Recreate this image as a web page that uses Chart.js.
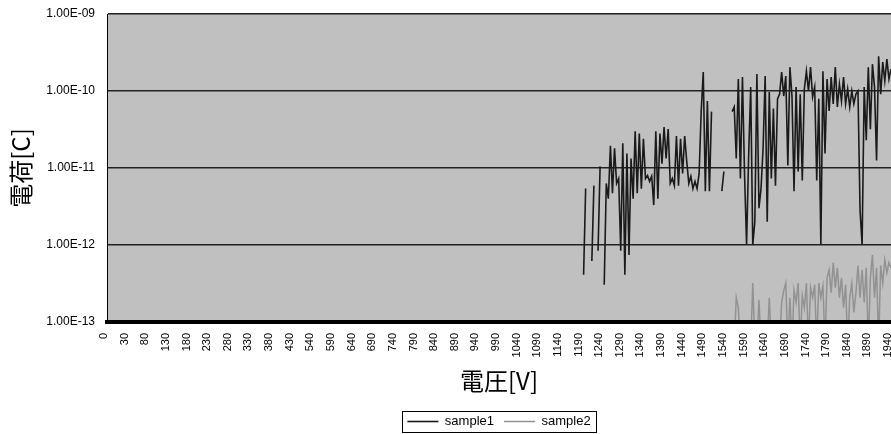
<!DOCTYPE html>
<html>
<head>
<meta charset="utf-8">
<script src="https://cdn.jsdelivr.net/npm/chart.js@4/dist/chart.umd.min.js"></script>
<style>
html,body{margin:0;padding:0;background:#fff;}
#wrap{width:891px;height:434px;}
</style>
</head>
<body>
<div id="wrap"><canvas id="c" width="891" height="434"></canvas></div>
<script>
// ---- data ----
const tickLabels = ['0','30','80','130','180','230','280','330','380','430','540','590','640','690','740','790','840','890','940','990','1040','1090','1140','1190','1240','1290','1340','1390','1440','1490','1540','1590','1640','1690','1740','1790','1840','1890','1940'];
const pointsPerTick = 10;
const yTickValues = [1e-13, 1e-12, 1e-11, 1e-10, 1e-9];
const yTickLabels = ['1.00E-13', '1.00E-12', '1.00E-11', '1.00E-10', '1.00E-09'];
const seriesNames = ['sample1', 'sample2'];

const sample1Start = 231;
const sample1 = [
 4.1e-13, 5.4e-12, null, null, 6.2e-13, 5.9e-12, null, 8.4e-13, 1.05e-11, null,
 3.05e-13, 6.3e-12, 4.0e-12, 1.95e-11, 4.7e-12, 1.8e-11, 6.3e-12, 7.3e-12, 8.4e-13, 2.1e-11,
 4.1e-13, 1.54e-11, 7.4e-13, 1.33e-11, 4.0e-12, 3.0e-11, 4.7e-12, 2.8e-11, 5.4e-12, 2.4e-11,
 7.3e-12, 8.0e-12, 6.7e-12, 7.8e-12, 3.3e-12, 3.0e-11, 4.0e-12, 2.8e-11, 1.14e-11, 3.4e-11,
 1.33e-11, 3.2e-11, 6.3e-12, 7.3e-12, 5.9e-12, 2.6e-11, 5.9e-12, 2.4e-11, 8.5e-12, 2.6e-11,
 1.21e-11, 6.3e-12, 7.8e-12, 5.4e-12, 6.7e-12, 5.4e-12, 8.5e-12, 5.4e-11, 1.76e-10, 5.0e-12,
 7.4e-11, 5.0e-12, 5.4e-11, null, null, null, null, 5.0e-12, 9.0e-12, null,
 null, null, 5.4e-11, 6.2e-11, 1.33e-11, 1.43e-10, 7.3e-12, 1.52e-10, 8.5e-12, 1.0e-12,
 1.45e-11, 1.13e-10, 1.0e-12, 2.0e-12, 1.66e-10, 3.0e-12, 5.4e-12, 1.8e-11, 1.56e-10, 2.0e-12,
 9.7e-11, 7.3e-12, 5.9e-11, 5.9e-12, 7.9e-11, 9.1e-11, 1.76e-10, 8.6e-11, 1.56e-10, 1.08e-11,
 2.04e-10, 8.6e-11, 5.0e-12, 1.13e-10, 9.0e-12, 9.1e-11, 6.9e-12, 1.06e-10, 1.81e-10, 1.0e-10,
 2.04e-10, 8.4e-11, 1.13e-10, 6.9e-12, 7.9e-11, 1.0e-12, 1.81e-10, 1.54e-11, 1.43e-10, 5.5e-11,
 1.52e-10, 6.8e-11, 2.04e-10, 6.2e-11, 1.23e-10, 7.4e-11, 1.52e-10, 6.8e-11, 1.06e-10, 6.2e-11,
 1.0e-10, 6.8e-11, 9.1e-11, 1.0e-10, 2.8e-12, 1.0e-12, 1.13e-10, 2.3e-11, 2.04e-10, 3.2e-11,
 2.23e-10, 1.13e-10, 1.25e-11, 2.83e-10, 9.1e-11, 2.37e-10, 1.35e-10, 2.59e-10, 1.43e-10, 1.92e-10
];

const sample2Start = 304;
const sample2 = [
 5e-14, 2.07e-13, 1.54e-13, 5e-14, 5e-14, 5e-14, 5e-14, 5e-14, 5e-14, 3.2e-13,
 5e-14, 5e-14, 1.95e-13, 5e-14, 5e-14, 5e-14, 5e-14, 2.07e-13, 5e-14, 5e-14,
 5e-14, 5e-14, 5e-14, 1.8e-13, 2.55e-13, 3.2e-13, 5e-14, 2.07e-13, 5e-14, 2.6e-13,
 1.8e-13, 3.2e-13, 5e-14, 2.2e-13, 1.54e-13, 3.2e-13, 5e-14, 2.8e-13, 2.07e-13, 3.05e-13,
 5e-14, 3.2e-13, 2.07e-13, 2.95e-13, 5e-14, 3.75e-13, 4.75e-13, 2.4e-13, 5.9e-13, 2.8e-13,
 5.05e-13, 2.07e-13, 3.75e-13, 1.54e-13, 3.05e-13, 5e-14, 2.07e-13, 3.2e-13, 1.33e-13, 2.4e-13,
 5.4e-13, 2.07e-13, 4.75e-13, 1.8e-13, 5.05e-13, 5e-14, 3.75e-13, 7.4e-13, 2.07e-13, 5.05e-13,
 5e-14, 5.4e-13, 3.2e-13, 6.4e-13, 4.35e-13, 5.9e-13, 5.05e-13
];

// ---- build category axis (one labelled tick every pointsPerTick points) ----
const categories = [];
tickLabels.forEach((lab, k) => {
  categories.push(lab);
  if (k < tickLabels.length - 1) {
    for (let j = 1; j < pointsPerTick; j++) categories.push('');
  }
});
function placeSeries(values, start) {
  const out = categories.map(() => null);
  values.forEach((v, j) => { out[start + j] = v; });
  return out;
}

const bgPlugin = {
  id: 'bgPlugin',
  beforeDraw(chart) {
    const ctx = chart.ctx, a = chart.chartArea;
    ctx.save();
    ctx.fillStyle = '#ffffff';
    ctx.fillRect(0, 0, chart.width, chart.height);
    ctx.fillStyle = '#c0c0c0';
    ctx.fillRect(a.left, a.top, a.right - a.left, a.bottom - a.top);
    ctx.restore();
  }
};
const legendFrame = {
  id: 'legendFrame',
  afterDraw(chart) {
    const lg = chart.legend;
    if (!lg || !lg.legendHitBoxes || !lg.legendHitBoxes.length) return;
    const hb = lg.legendHitBoxes;
    const l = Math.min(...hb.map(h => h.left)) - 5;
    const r = Math.max(...hb.map(h => h.left + h.width)) + 6;
    const t = hb[0].top - 4;
    const b = hb[0].top + hb[0].height + 4;
    const ctx = chart.ctx;
    ctx.save();
    ctx.strokeStyle = '#000';
    ctx.lineWidth = 1;
    ctx.strokeRect(Math.round(l) + 0.5, Math.round(t) + 0.5, Math.round(r - l), Math.round(b - t));
    ctx.restore();
  }
};

const tickFont = {family: 'Liberation Sans, Arial, sans-serif', size: 11};
const yTickFont = {family: 'Liberation Sans, Arial, sans-serif', size: 12};
const titleFont = {family: '"Noto Sans CJK JP", sans-serif', size: 24};

new Chart(document.getElementById('c'), {
  type: 'line',
  data: {
    labels: categories,
    datasets: [
      {label: seriesNames[0], data: placeSeries(sample1, sample1Start), borderColor: '#1a1a1a', backgroundColor: '#1a1a1a',
       borderWidth: 1.6, pointRadius: 0, tension: 0, spanGaps: false, fill: false},
      {label: seriesNames[1], data: placeSeries(sample2, sample2Start), borderColor: '#929292', backgroundColor: '#929292',
       borderWidth: 1.5, pointRadius: 0, tension: 0, spanGaps: false, fill: false,
       clip: {left: 1, top: 1, right: 1, bottom: -2}}
    ]
  },
  options: {
    responsive: false,
    animation: false,
    events: [],
    layout: {padding: {top: 14, left: 0, right: 0, bottom: -4}},
    plugins: {
      legend: {
        position: 'bottom', fullSize: false,
        labels: {usePointStyle: true, pointStyle: 'line', pointStyleWidth: 31, padding: 10, color: '#000',
                 font: {family: 'Liberation Sans, Arial, sans-serif', size: 13}}
      },
      tooltip: {enabled: false}
    },
    scales: {
      x: {
        type: 'category', offset: false,
        grid: {display: true, color: 'rgba(0,0,0,0)', drawTicks: false},
        border: {display: true, color: '#000', width: 4},
        ticks: {autoSkip: false, minRotation: 90, maxRotation: 90, padding: 11, labelOffset: -3,
                color: '#000', font: tickFont, callback: (v) => categories[v]},
        title: {display: true, text: '電圧[V]', color: '#000', font: titleFont, padding: {top: 0, bottom: 10}},
        afterFit(s) { s.height = 83; s.paddingLeft = 0; s.paddingRight = 0; }
      },
      y: {
        type: 'logarithmic', min: 1e-13, max: 1e-9,
        grid: {color: '#222', lineWidth: 1.5, drawTicks: false},
        border: {display: true, color: '#000', width: 1},
        afterBuildTicks(s) { s.ticks = yTickValues.map(v => ({value: v})); },
        ticks: {padding: 12, color: '#000', font: yTickFont, callback: (v, i) => yTickLabels[i]},
        title: {display: true, text: '電荷[C]', color: '#000', font: titleFont, padding: {top: 6, bottom: 0}},
        afterFit(s) { s.width = 107; s.paddingTop = 0; s.paddingBottom = 0; }
      }
    }
  },
  plugins: [bgPlugin, legendFrame]
});
</script>
</body>
</html>
